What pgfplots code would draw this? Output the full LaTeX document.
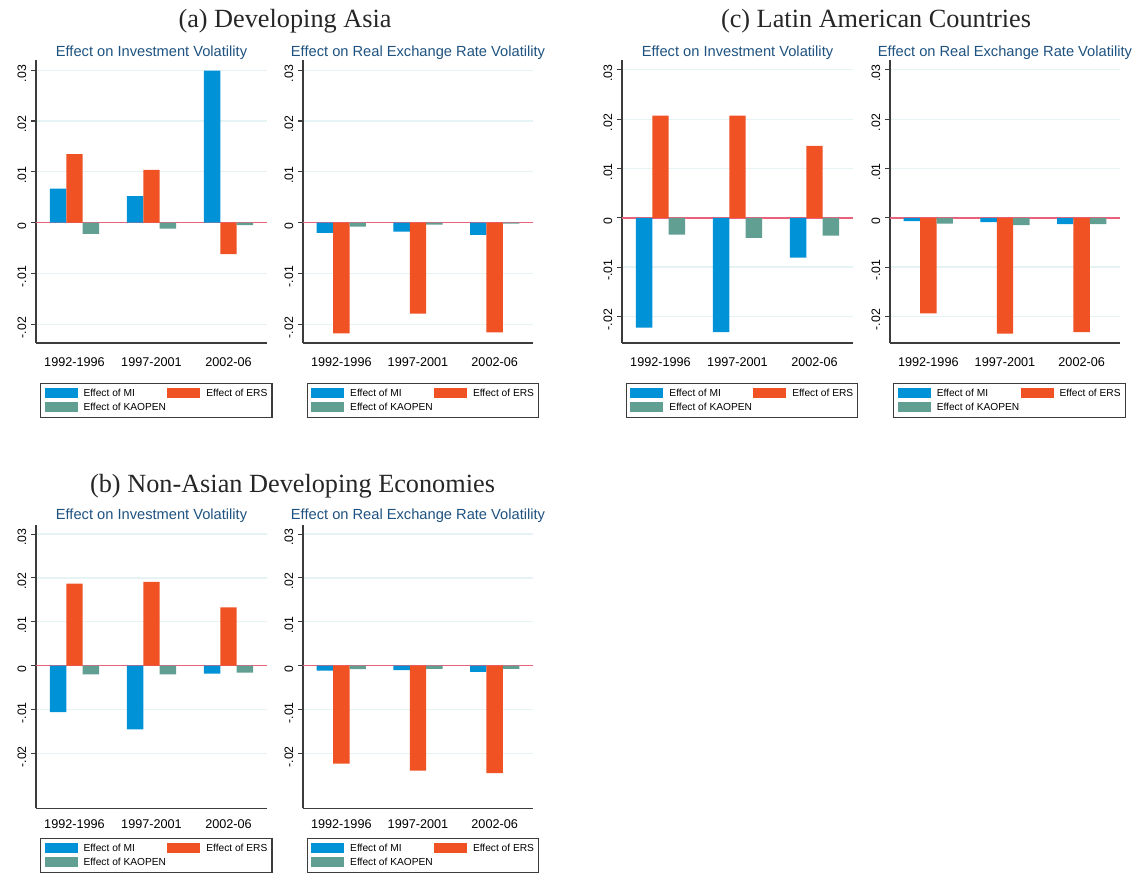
\documentclass[border=0pt]{standalone}
\usepackage{pgfplots}
\pgfplotsset{compat=1.18}
\usepackage{fontspec}
\setmainfont{Liberation Serif}
\setsansfont{Liberation Sans}

\definecolor{mi}{RGB}{0,146,214}
\definecolor{ers}{RGB}{240,82,36}
\definecolor{kao}{RGB}{97,159,147}
\definecolor{zero}{RGB}{232,98,124}
\definecolor{gridc}{RGB}{230,243,244}
\definecolor{subt}{RGB}{30,82,128}
\definecolor{axc}{RGB}{60,60,60}

\newcommand\tickfontx{\sffamily\fontsize{9.5}{11}\selectfont}
\newcommand\tickfonty{\sffamily\fontsize{9.2}{10}\selectfont}
\newcommand\legfont{\sffamily\fontsize{7.65}{9}\selectfont}
\newcommand\subfont{\sffamily\fontsize{11}{13}\selectfont}
\newcommand\bigtitlefont{\rmfamily\fontsize{19.7}{23}\selectfont}

\pgfplotsset{
  panel/.style={
    scale only axis, width=173.25pt, height=212.25pt,
    xmin=0.5, xmax=3.5, ymax=0.032,
    axis x line=bottom, axis y line=left,
    axis line style={-, axc, line width=1.1pt},
    xtick={1,2,3}, xticklabels={1992-1996,1997-2001,2002-06},
    xtick style={draw=none},
    xticklabel style={font=\tickfontx, yshift=-4pt},
    ytick={-0.02,-0.01,0,0.01,0.02,0.03},
    yticklabels={-.02,-.01,0,.01,.02,.03},
    scaled y ticks=false,
    ytick style={axc, line width=0.8pt},
    tick align=outside, major tick length=3.75pt,
    ymajorgrids, grid style={gridc, line width=0.9pt},
    yticklabel style={rotate=90, anchor=south, font=\tickfonty, xshift=-2.5pt},
    title style={at={(0.5,1)}, anchor=base, yshift=-3pt, font=\subfont, text=subt},
    legend columns=2, legend cell align=left,
    legend style={anchor=north west, draw=axc, line width=0.8pt, fill=white,
      font=\legfont, inner xsep=3pt, inner ysep=3.4pt, row sep=2.2pt,
      column sep=4pt,
      /tikz/every even column/.append style={column sep=0.4pt},
      nodes={inner sep=0.5pt, text height=5.5pt, text depth=1.5pt}},
  },
  barMI/.style={ybar, bar width=12.3pt, bar shift=-12.3pt, fill=mi, draw=none,
    legend image code/.code={\fill[mi] (0pt,-3.25pt) rectangle (24.75pt,4.25pt);}},
  barERS/.style={ybar, bar width=12.3pt, bar shift=0pt, fill=ers, draw=none,
    legend image code/.code={\fill[ers] (0pt,-3.25pt) rectangle (24.75pt,4.25pt);}},
  barKAO/.style={ybar, bar width=12.3pt, bar shift=12.3pt, fill=kao, draw=none,
    legend image code/.code={\fill[kao] (0pt,-3.25pt) rectangle (24.75pt,4.25pt);}},
  zeroline/.style={forget plot, zero, line width=1.1pt, mark=none, sharp plot},
}

\begin{document}
\begin{tikzpicture}
\useasboundingbox (0,0) rectangle (853.5pt,-654pt);

\node[anchor=base, font=\bigtitlefont, text=black!85] at (213.75pt,-20.25pt) {(a) Developing Asia};
\node[anchor=base, font=\bigtitlefont, text=black!85] at (657pt,-20.25pt) {(c) Latin American Countries};
\node[anchor=base, font=\bigtitlefont, text=black!85] at (219.4pt,-369pt) {(b) Non-Asian Developing Economies};

% (a) left
\begin{axis}[panel, at={(27pt,-257.25pt)}, anchor=south west, width=173.25pt,
  ymin=-0.0237, title={Effect on Investment Volatility},
  legend style={at={(0.0173,-0.1403)}}]
\addplot[zeroline] coordinates {(0.5,0) (3.5,0)};
\addplot[barMI] coordinates {(1,0.0067) (2,0.0052) (3,0.0299)};
\addlegendentry{Effect of MI}
\addplot[barERS] coordinates {(1,0.0135) (2,0.0104) (3,-0.0062)};
\addlegendentry{Effect of ERS}
\addplot[barKAO] coordinates {(1,-0.0022) (2,-0.0012) (3,-0.0005)};
\addlegendentry{Effect of KAOPEN}
\end{axis}

% (a) right
\begin{axis}[panel, at={(227.25pt,-257.25pt)}, anchor=south west, width=172.5pt,
  ymin=-0.0237, title={Effect on Real Exchange Rate Volatility},
  legend style={at={(0.016,-0.1403)}}]
\addplot[zeroline] coordinates {(0.5,0) (3.5,0)};
\addplot[barMI] coordinates {(1,-0.0020) (2,-0.0018) (3,-0.0024)};
\addlegendentry{Effect of MI}
\addplot[barERS] coordinates {(1,-0.0218) (2,-0.0179) (3,-0.0216)};
\addlegendentry{Effect of ERS}
\addplot[barKAO] coordinates {(1,-0.0008) (2,-0.0004) (3,-0.0002)};
\addlegendentry{Effect of KAOPEN}
\end{axis}

% (c) left
\begin{axis}[panel, at={(466.5pt,-257.25pt)}, anchor=south west, width=173.25pt,
  ymin=-0.0254, title={Effect on Investment Volatility},
  legend style={at={(0.017,-0.1403)}}]
\addplot[zeroline] coordinates {(0.5,0) (3.5,0)};
\addplot[barMI] coordinates {(1,-0.0223) (2,-0.0232) (3,-0.0081)};
\addlegendentry{Effect of MI}
\addplot[barERS] coordinates {(1,0.0207) (2,0.0207) (3,0.0146)};
\addlegendentry{Effect of ERS}
\addplot[barKAO] coordinates {(1,-0.0034) (2,-0.0041) (3,-0.0036)};
\addlegendentry{Effect of KAOPEN}
\end{axis}

% (c) right
\begin{axis}[panel, at={(667.5pt,-257.25pt)}, anchor=south west, width=172.5pt,
  ymin=-0.0254, title={Effect on Real Exchange Rate Volatility},
  legend style={at={(0.014,-0.1403)}}]
\addplot[zeroline] coordinates {(0.5,0) (3.5,0)};
\addplot[barMI] coordinates {(1,-0.0007) (2,-0.0009) (3,-0.0013)};
\addlegendentry{Effect of MI}
\addplot[barERS] coordinates {(1,-0.0194) (2,-0.0235) (3,-0.0232)};
\addlegendentry{Effect of ERS}
\addplot[barKAO] coordinates {(1,-0.0012) (2,-0.0015) (3,-0.0013)};
\addlegendentry{Effect of KAOPEN}
\end{axis}

% (b) left
\begin{axis}[panel, at={(27pt,-606.2pt)}, anchor=south west, width=173.25pt,
  ymin=-0.0325, title={Effect on Investment Volatility},
  title style={yshift=1.5pt}, xticklabel style={yshift=3pt},
  legend style={at={(0.0173,-0.104)}}]
\addplot[zeroline] coordinates {(0.5,0) (3.5,0)};
\addplot[barMI] coordinates {(1,-0.0106) (2,-0.0145) (3,-0.0018)};
\addlegendentry{Effect of MI}
\addplot[barERS] coordinates {(1,0.0187) (2,0.0191) (3,0.0133)};
\addlegendentry{Effect of ERS}
\addplot[barKAO] coordinates {(1,-0.0020) (2,-0.0020) (3,-0.0016)};
\addlegendentry{Effect of KAOPEN}
\end{axis}

% (b) right
\begin{axis}[panel, at={(227.25pt,-606.2pt)}, anchor=south west, width=172.5pt,
  ymin=-0.0325, title={Effect on Real Exchange Rate Volatility},
  title style={yshift=1.5pt}, xticklabel style={yshift=3pt},
  legend style={at={(0.016,-0.104)}}]
\addplot[zeroline] coordinates {(0.5,0) (3.5,0)};
\addplot[barMI] coordinates {(1,-0.0011) (2,-0.0010) (3,-0.0014)};
\addlegendentry{Effect of MI}
\addplot[barERS] coordinates {(1,-0.0223) (2,-0.0239) (3,-0.0245)};
\addlegendentry{Effect of ERS}
\addplot[barKAO] coordinates {(1,-0.0008) (2,-0.0007) (3,-0.0007)};
\addlegendentry{Effect of KAOPEN}
\end{axis}
\end{tikzpicture}
\end{document}
